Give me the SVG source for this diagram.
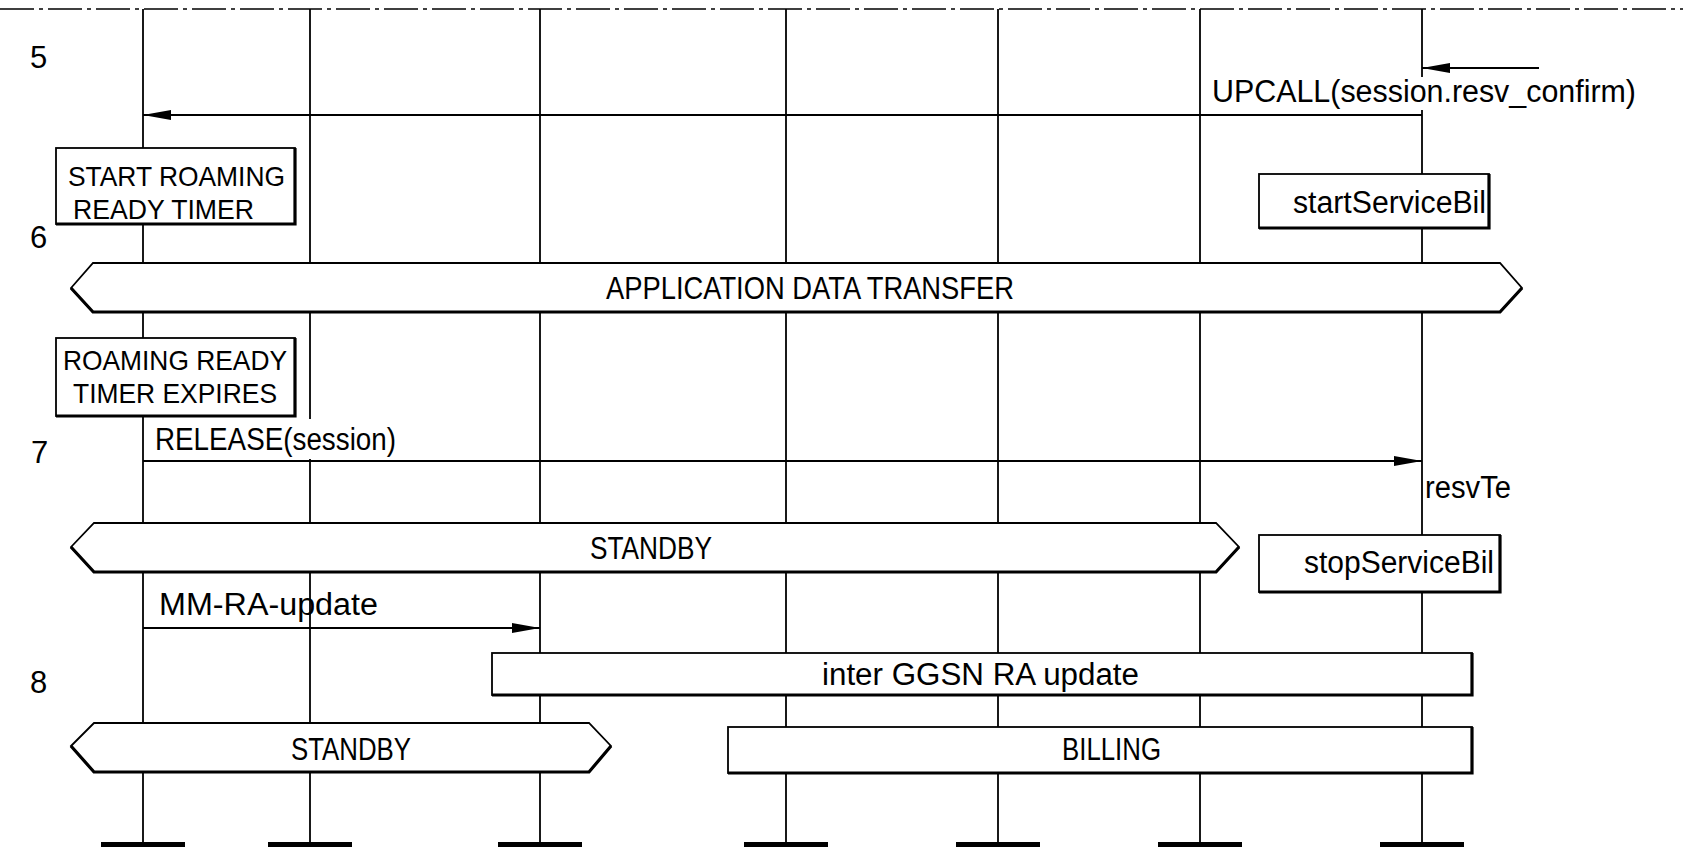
<svg xmlns="http://www.w3.org/2000/svg" width="1683" height="847" viewBox="0 0 1683 847">
<style>
.life{stroke:#000;stroke-width:1.8;fill:none}
.frame{stroke:#000;stroke-width:1.6;fill:none;stroke-dasharray:34 5 4 5}
.box{fill:#fff;stroke:#000;stroke-width:1.8}
.shadow{fill:none;stroke:#000;stroke-width:3.2;stroke-linejoin:miter}
.msg{stroke:#000;stroke-width:1.8;fill:none}
.bar{fill:#000}
.bg{fill:#fff}
text{font-family:"Liberation Sans",Arial,sans-serif;font-size:31px;fill:#000}
.num{font-size:31px}
.two{font-size:28px}
</style>
<defs>
<marker id="ah" viewBox="0 0 28 10" refX="28" refY="5" markerWidth="28" markerHeight="10" markerUnits="userSpaceOnUse" orient="auto">
<path d="M0,0 L28,5 L0,10 Z" fill="#000"/>
</marker>
</defs>
<rect width="1683" height="847" fill="#fff"/>
<line class="frame" x1="0" y1="9" x2="1683" y2="9"/>
<g id="lifelines">
<g id="ll1"><line class="life" x1="143" y1="9" x2="143" y2="845"/><rect class="bar" x="101" y="842" width="84" height="5"/></g>
<g id="ll2"><line class="life" x1="310" y1="9" x2="310" y2="845"/><rect class="bar" x="268" y="842" width="84" height="5"/></g>
<g id="ll3"><line class="life" x1="540" y1="9" x2="540" y2="845"/><rect class="bar" x="498" y="842" width="84" height="5"/></g>
<g id="ll4"><line class="life" x1="786" y1="9" x2="786" y2="845"/><rect class="bar" x="744" y="842" width="84" height="5"/></g>
<g id="ll5"><line class="life" x1="998" y1="9" x2="998" y2="845"/><rect class="bar" x="956" y="842" width="84" height="5"/></g>
<g id="ll6"><line class="life" x1="1200" y1="9" x2="1200" y2="845"/><rect class="bar" x="1158" y="842" width="84" height="5"/></g>
<g id="ll7"><line class="life" x1="1422" y1="9" x2="1422" y2="845"/><rect class="bar" x="1380" y="842" width="84" height="5"/></g>
</g>
<g id="steps">
<text class="num" x="30" y="68">5</text>
<text class="num" x="30" y="248">6</text>
<text class="num" x="31" y="463">7</text>
<text class="num" x="30" y="693">8</text>
</g>
<g id="connectors">
<line class="msg" x1="1539" y1="68" x2="1422" y2="68" marker-end="url(#ah)"/>
<line class="msg" x1="1422" y1="115" x2="143" y2="115" marker-end="url(#ah)"/>
<line class="msg" x1="143" y1="461" x2="1422" y2="461" marker-end="url(#ah)"/>
<line class="msg" x1="143" y1="628" x2="540" y2="628" marker-end="url(#ah)"/>
<rect class="bg" x="1208" y="77" width="432" height="33"/>
<text x="1212" y="102" textLength="424" lengthAdjust="spacingAndGlyphs">UPCALL(session.resv_confirm)</text>
<rect class="bg" x="150" y="419" width="250" height="40"/>
<text x="155" y="450" textLength="241" lengthAdjust="spacingAndGlyphs">RELEASE(session)</text>
<text x="159" y="615" textLength="219" lengthAdjust="spacingAndGlyphs">MM-RA-update</text>
<text x="1425" y="498" textLength="86" lengthAdjust="spacingAndGlyphs">resvTe</text>
</g>
<g id="start-roaming">
<rect class="box" x="56" y="148" width="239" height="76"/>
<polyline class="shadow" points="295,148 295,224 56,224"/>
<text class="two" x="68" y="186" textLength="217" lengthAdjust="spacingAndGlyphs">START ROAMING</text>
<text class="two" x="73" y="219" textLength="181" lengthAdjust="spacingAndGlyphs">READY TIMER</text>
</g>
<g id="start-billing">
<rect class="box" x="1259" y="174" width="230" height="54"/>
<polyline class="shadow" points="1489,174 1489,228 1259,228"/>
<text x="1293" y="213" textLength="193" lengthAdjust="spacingAndGlyphs">startServiceBil</text>
</g>
<g id="app-data">
<polygon class="box" points="71,288 93,263 1500,263 1522,288 1500,312 93,312"/>
<polyline class="shadow" points="71,288 93,312 1500,312 1522,288"/>
<text x="606" y="299" textLength="408" lengthAdjust="spacingAndGlyphs">APPLICATION DATA TRANSFER</text>
</g>
<g id="timer-expires">
<rect class="box" x="56" y="338" width="239" height="78"/>
<polyline class="shadow" points="295,338 295,416 56,416"/>
<text class="two" x="63" y="370" textLength="224" lengthAdjust="spacingAndGlyphs">ROAMING READY</text>
<text class="two" x="73" y="403" textLength="204" lengthAdjust="spacingAndGlyphs">TIMER EXPIRES</text>
</g>
<g id="standby-1">
<polygon class="box" points="71,547 94,523 1216,523 1239,547 1216,572 94,572"/>
<polyline class="shadow" points="71,547 94,572 1216,572 1239,547"/>
<text x="590" y="559" textLength="122" lengthAdjust="spacingAndGlyphs">STANDBY</text>
</g>
<g id="stop-billing">
<rect class="box" x="1259" y="535" width="241" height="57"/>
<polyline class="shadow" points="1500,535 1500,592 1259,592"/>
<text x="1304" y="573" textLength="190" lengthAdjust="spacingAndGlyphs">stopServiceBil</text>
</g>
<g id="inter-ggsn">
<rect class="box" x="492" y="653" width="980" height="42"/>
<polyline class="shadow" points="1472,653 1472,695 492,695"/>
<text x="822" y="685" textLength="317" lengthAdjust="spacingAndGlyphs">inter GGSN RA update</text>
</g>
<g id="standby-2">
<polygon class="box" points="71,746 94,723 589,723 611,746 589,772 94,772"/>
<polyline class="shadow" points="71,746 94,772 589,772 611,746"/>
<text x="291" y="760" textLength="120" lengthAdjust="spacingAndGlyphs">STANDBY</text>
</g>
<g id="billing">
<rect class="box" x="728" y="727" width="744" height="46"/>
<polyline class="shadow" points="1472,727 1472,773 728,773"/>
<text x="1062" y="760" textLength="99" lengthAdjust="spacingAndGlyphs">BILLING</text>
</g>
</svg>
